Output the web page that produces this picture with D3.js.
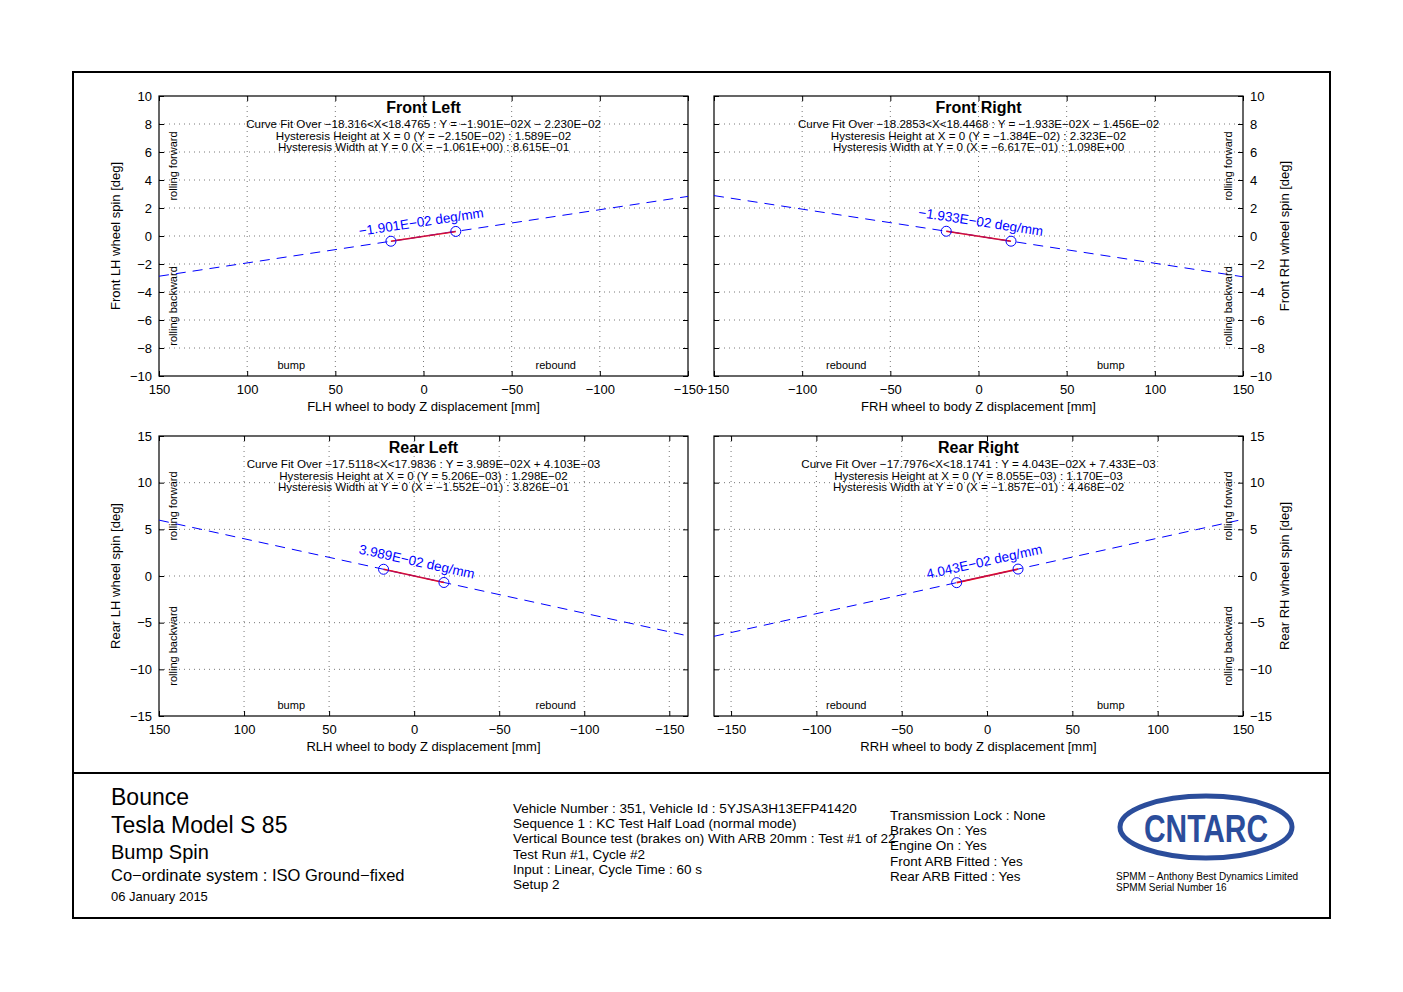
<!DOCTYPE html>
<html>
<head>
<meta charset="utf-8">
<script src="https://cdn.jsdelivr.net/npm/d3@7"></script>
<style>
  html, body { margin: 0; padding: 0; background: #fff; }
  svg { display: block; font-family: "Liberation Sans", Arial, Helvetica, sans-serif; }
</style>
</head>
<body>
<svg id="chart" width="1403" height="992"></svg>
<script>
// ---------------- DATA ----------------
const panelTitles = ["Front Left", "Front Right", "Rear Left", "Rear Right"];
const fitSlopes = [-1.901e-2, -1.933e-2, 3.989e-2, 4.043e-2];
const fitIntercepts = [-2.230e-2, -1.456e-2, 4.103e-3, 7.433e-3];
const fitXMin = [-18.316, -18.2853, -17.5118, -17.7976];
const fitXMax = [18.4765, 18.4468, 17.9836, 18.1741];
const slopeLabels = ["\u22121.901E\u221202 deg/mm", "\u22121.933E\u221202 deg/mm", "3.989E\u221202 deg/mm", "4.043E\u221202 deg/mm"];
const curveFitText = [
  "Curve Fit Over \u221218.316<X<18.4765 : Y = \u22121.901E\u221202X \u2212 2.230E\u221202",
  "Curve Fit Over \u221218.2853<X<18.4468 : Y = \u22121.933E\u221202X \u2212 1.456E\u221202",
  "Curve Fit Over \u221217.5118<X<17.9836 : Y = 3.989E\u221202X + 4.103E\u221203",
  "Curve Fit Over \u221217.7976<X<18.1741 : Y = 4.043E\u221202X + 7.433E\u221203"
];
const hystHeightText = [
  "Hysteresis Height at X = 0 (Y = \u22122.150E\u221202) : 1.589E\u221202",
  "Hysteresis Height at X = 0 (Y = \u22121.384E\u221202) : 2.323E\u221202",
  "Hysteresis Height at X = 0 (Y = 5.206E\u221203) : 1.298E\u221202",
  "Hysteresis Height at X = 0 (Y = 8.055E\u221203) : 1.170E\u221203"
];
const hystWidthText = [
  "Hysteresis Width at Y = 0 (X = \u22121.061E+00) : 8.615E\u221201",
  "Hysteresis Width at Y = 0 (X = \u22126.617E\u221201) : 1.098E+00",
  "Hysteresis Width at Y = 0 (X = \u22121.552E\u221201) : 3.826E\u221201",
  "Hysteresis Width at Y = 0 (X = \u22121.857E\u221201) : 4.468E\u221202"
];
const xDomains = [[150, -150], [-150, 150], [150, -161], [-160, 150]];
const yDomains = [[-10, 10], [-10, 10], [-15, 15], [-15, 15]];
const xTicks = [-150, -100, -50, 0, 50, 100, 150];
const yTicksFront = [-10, -8, -6, -4, -2, 0, 2, 4, 6, 8, 10];
const yTicksRear = [-15, -10, -5, 0, 5, 10, 15];
const xAxisLabels = ["FLH wheel to body Z displacement [mm]", "FRH wheel to body Z displacement [mm]",
                     "RLH wheel to body Z displacement [mm]", "RRH wheel to body Z displacement [mm]"];
const yAxisLabels = ["Front LH wheel spin [deg]", "Front RH wheel spin [deg]",
                     "Rear LH wheel spin [deg]", "Rear RH wheel spin [deg]"];
const leftBottomText = [["bump", "rebound"], ["rebound", "bump"], ["bump", "rebound"], ["rebound", "bump"]];
const headerLines = ["Bounce", "Tesla Model S 85", "Bump Spin", "Co\u2212ordinate system : ISO Ground\u2212fixed", "06 January 2015"];
const testLines = [
  "Vehicle Number : 351, Vehicle Id : 5YJSA3H13EFP41420",
  "Sequence 1 : KC Test Half Load (normal mode)",
  "Vertical Bounce test (brakes on) With ARB 20mm : Test #1 of 22",
  "Test Run #1, Cycle #2",
  "Input : Linear, Cycle Time : 60 s",
  "Setup 2"
];
const statusLines = ["Transmission Lock : None", "Brakes On : Yes", "Engine On : Yes", "Front ARB Fitted : Yes", "Rear ARB Fitted : Yes"];
const logoLines = ["SPMM \u2212 Anthony Best Dynamics Limited", "SPMM Serial Number 16"];

// ---------------- LAYOUT ----------------
const svg = d3.select("#chart");
svg.append("rect").attr("width", 1403).attr("height", 992).attr("fill", "#fff");

const boxes = [
  {L: 159, R: 688, T: 96, B: 376, side: "left"},
  {L: 714, R: 1243, T: 96, B: 376, side: "right"},
  {L: 159, R: 688, T: 436, B: 716, side: "left"},
  {L: 714, R: 1243, T: 436, B: 716, side: "right"}
];

const fmt = d => (d < 0 ? "\u2212" + Math.abs(d) : String(d));

boxes.forEach((b, i) => {
  const x = d3.scaleLinear().domain(xDomains[i]).range([b.L, b.R]);
  const y = d3.scaleLinear().domain(yDomains[i]).range([b.B, b.T]);
  const yTicks = i < 2 ? yTicksFront : yTicksRear;
  const g = svg.append("g");

  // grid
  const grid = g.append("g").attr("stroke", "#555").attr("stroke-width", 0.8).attr("stroke-dasharray", "1,4");
  xTicks.forEach(t => {
    const px = x(t);
    if (Math.abs(px - b.L) < 1 || Math.abs(px - b.R) < 1) return;
    grid.append("line").attr("x1", px).attr("x2", px).attr("y1", b.T).attr("y2", b.B);
  });
  yTicks.forEach(t => {
    const py = y(t);
    if (Math.abs(py - b.T) < 1 || Math.abs(py - b.B) < 1) return;
    grid.append("line").attr("x1", b.L).attr("x2", b.R).attr("y1", py).attr("y2", py);
  });

  // axes
  const axB = g.append("g").attr("transform", `translate(0,${b.B})`)
    .call(d3.axisBottom(x).tickValues(xTicks).tickSize(-5).tickPadding(9).tickFormat(fmt));
  const axT = g.append("g").attr("transform", `translate(0,${b.T})`)
    .call(d3.axisTop(x).tickValues(xTicks).tickSize(-5).tickFormat(""));
  let axY, axY2;
  if (b.side === "left") {
    axY = g.append("g").attr("transform", `translate(${b.L},0)`)
      .call(d3.axisLeft(y).tickValues(yTicks).tickSize(-5).tickPadding(7).tickFormat(fmt));
    axY2 = g.append("g").attr("transform", `translate(${b.R},0)`)
      .call(d3.axisRight(y).tickValues(yTicks).tickSize(-5).tickFormat(""));
  } else {
    axY = g.append("g").attr("transform", `translate(${b.R},0)`)
      .call(d3.axisRight(y).tickValues(yTicks).tickSize(-5).tickPadding(7).tickFormat(fmt));
    axY2 = g.append("g").attr("transform", `translate(${b.L},0)`)
      .call(d3.axisLeft(y).tickValues(yTicks).tickSize(-5).tickFormat(""));
  }
  [axB, axT, axY, axY2].forEach(a => {
    a.select(".domain").remove();
    a.selectAll("text").attr("font-size", 13).attr("fill", "#000")
      .attr("font-family", "Liberation Sans, Arial, sans-serif");
    a.selectAll("line").attr("stroke", "#000");
  });

  // box
  g.append("rect").attr("x", b.L).attr("y", b.T).attr("width", b.R - b.L).attr("height", b.B - b.T)
    .attr("fill", "none").attr("stroke", "#000").attr("stroke-width", 1.2);

  // fit line (dashed, full range)
  const f = X => fitSlopes[i] * X + fitIntercepts[i];
  const xd = xDomains[i];
  g.append("line")
    .attr("x1", x(xd[0])).attr("y1", y(f(xd[0])))
    .attr("x2", x(xd[1])).attr("y2", y(f(xd[1])))
    .attr("stroke", "#0000ff").attr("stroke-width", 1).attr("stroke-dasharray", "10,7");

  // fitted range segment
  const x1 = x(fitXMin[i]), y1 = y(f(fitXMin[i]));
  const x2 = x(fitXMax[i]), y2 = y(f(fitXMax[i]));
  g.append("line").attr("x1", x1).attr("y1", y1).attr("x2", x2).attr("y2", y2)
    .attr("stroke", "#ff0000").attr("stroke-width", 1.6);
  g.append("line").attr("x1", x1).attr("y1", y1 - 0.4).attr("x2", x2).attr("y2", y2 + 0.4)
    .attr("stroke", "#3030ff").attr("stroke-width", 0.6).attr("opacity", 0.6);
  [[x1, y1], [x2, y2]].forEach(p => {
    g.append("circle").attr("cx", p[0]).attr("cy", p[1]).attr("r", 5)
      .attr("fill", "none").attr("stroke", "#0000ff").attr("stroke-width", 1);
  });

  // slope label
  let ang = Math.atan2(y2 - y1, x2 - x1) * 180 / Math.PI;
  if (ang > 90) ang -= 180;
  if (ang < -90) ang += 180;
  const mx = (x1 + x2) / 2, my = (y1 + y2) / 2;
  g.append("text").attr("transform", `translate(${mx},${my}) rotate(${ang})`)
    .attr("x", 0).attr("y", -10).attr("text-anchor", "middle")
    .attr("font-size", 13.5).attr("fill", "#0000ff").text(slopeLabels[i]);

  // title and annotations
  const cx = (b.L + b.R) / 2;
  g.append("text").attr("x", cx).attr("y", b.T + 17).attr("text-anchor", "middle")
    .attr("font-size", 16).attr("font-weight", "bold").text(panelTitles[i]);
  [curveFitText[i], hystHeightText[i], hystWidthText[i]].forEach((t, k) => {
    g.append("text").attr("x", cx).attr("y", b.T + 32 + k * 11.5).attr("text-anchor", "middle")
      .attr("font-size", 11.6).text(t);
  });

  // bump / rebound
  const w = b.R - b.L, h = b.B - b.T;
  g.append("text").attr("x", b.L + w * 0.25).attr("y", b.B - 7).attr("text-anchor", "middle")
    .attr("font-size", 11).text(leftBottomText[i][0]);
  g.append("text").attr("x", b.L + w * 0.75).attr("y", b.B - 7).attr("text-anchor", "middle")
    .attr("font-size", 11).text(leftBottomText[i][1]);

  // rolling forward/backward
  const rx = b.side === "left" ? b.L + 18 : b.R - 11;
  g.append("text").attr("transform", `translate(${rx},${b.T + h * 0.25}) rotate(-90)`)
    .attr("text-anchor", "middle").attr("font-size", 11).text("rolling forward");
  g.append("text").attr("transform", `translate(${rx},${b.T + h * 0.75}) rotate(-90)`)
    .attr("text-anchor", "middle").attr("font-size", 11).text("rolling backward");

  // axis labels
  g.append("text").attr("x", cx).attr("y", b.B + 35).attr("text-anchor", "middle")
    .attr("font-size", 13).text(xAxisLabels[i]);
  const lx = b.side === "left" ? 120 : 1289;
  g.append("text").attr("transform", `translate(${lx},${(b.T + b.B) / 2}) rotate(-90)`)
    .attr("text-anchor", "middle").attr("font-size", 13).text(yAxisLabels[i]);
});

// outer frame
svg.append("rect").attr("x", 73).attr("y", 72).attr("width", 1257).attr("height", 846)
  .attr("fill", "none").attr("stroke", "#000").attr("stroke-width", 2);
svg.append("line").attr("x1", 73).attr("x2", 1330).attr("y1", 773).attr("y2", 773)
  .attr("stroke", "#000").attr("stroke-width", 2);

// header texts
const hdrSizes = [23, 23, 20, 16.5, 13];
const hdrY = [805, 833, 859, 881, 901];
headerLines.forEach((t, k) => {
  svg.append("text").attr("x", 111).attr("y", hdrY[k]).attr("font-size", hdrSizes[k]).text(t);
});
testLines.forEach((t, k) => {
  svg.append("text").attr("x", 513).attr("y", 813 + k * 15.2).attr("font-size", 13.5).text(t);
});
statusLines.forEach((t, k) => {
  svg.append("text").attr("x", 890).attr("y", 820 + k * 15.2).attr("font-size", 13.5).text(t);
});

// logo
const logo = svg.append("g");
logo.append("ellipse").attr("cx", 1206).attr("cy", 827).attr("rx", 86).attr("ry", 31)
  .attr("fill", "none").attr("stroke", "#2b4d9b").attr("stroke-width", 5);
logo.append("text").attr("x", 1144).attr("y", 842)
  .attr("font-family", "Liberation Sans Narrow, Liberation Sans, Arial, sans-serif")
  .attr("font-weight", "bold").attr("font-size", 38).attr("fill", "#2b4d9b")
  .attr("textLength", 124).attr("lengthAdjust", "spacingAndGlyphs").text("CNTARC");
logoLines.forEach((t, k) => {
  svg.append("text").attr("x", 1116).attr("y", 880 + k * 11).attr("font-size", 10).text(t);
});
</script>
</body>
</html>
